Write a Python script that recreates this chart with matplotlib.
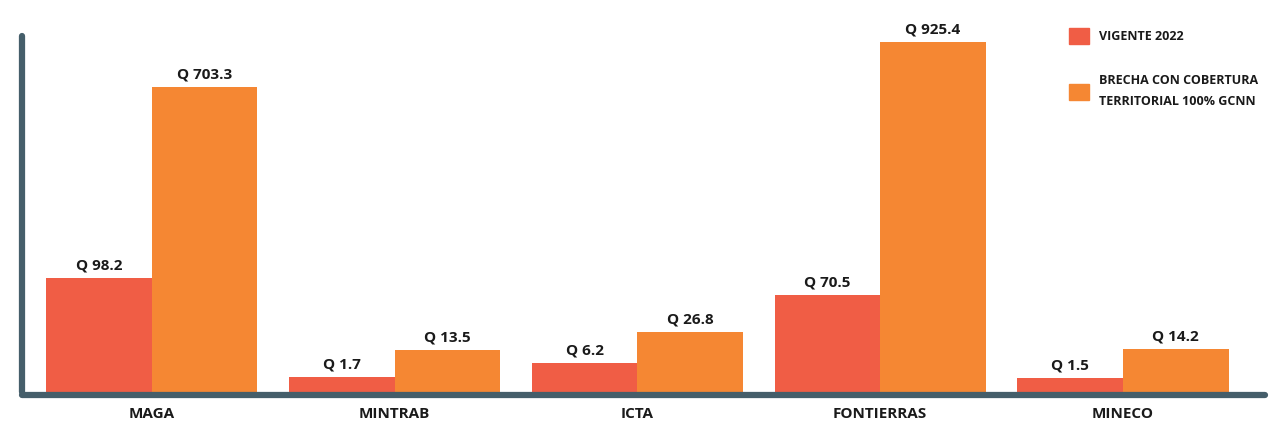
import numpy as np
import matplotlib.pyplot as plt
from matplotlib.patches import Patch

# data
categorias = ['MAGA', 'MINTRAB', 'ICTA', 'FONTIERRAS', 'MINECO']
vigente = [98.2, 1.7, 6.2, 70.5, 1.5]
brecha = [703.3, 13.5, 26.8, 925.4, 14.2]
series_labels = ['VIGENTE 2022', 'BRECHA CON COBERTURA\nTERRITORIAL 100% GCNN']

c_vig = '#F05D45'
c_bre = '#F58733'
c_ax = '#455E6A'
fs = 11

plt.rcParams['font.family'] = ['Open Sans', 'DejaVu Sans']

fig = plt.figure(figsize=(12.71, 4.26), dpi=100)
ax = fig.add_axes([22/1271, (426-392)/426, (1265-22)/1271, (392-36)/426])

x = np.arange(len(categorias))
w = 0.435
b1 = ax.bar(x - w/2, vigente, w, color=c_vig)
b2 = ax.bar(x + w/2, brecha, w, color=c_bre)

# the original chart is not linear; a sqrt scale gets close
ax.set_yscale('function', functions=(np.sqrt, np.square))
ax.set_ylim(0, 958)
ax.set_xlim(-0.535, 4.585)

for bars, vals in ((b1, vigente), (b2, brecha)):
    for r, v in zip(bars, vals):
        ax.annotate('Q %.1f' % v, (r.get_x() + r.get_width()/2, r.get_height()),
                    xytext=(0, 4), textcoords='offset points', ha='center', va='bottom',
                    fontsize=fs, fontweight='bold', color='#1a1a1a')

for s in ['top', 'right']:
    ax.spines[s].set_visible(False)
for s in ['left', 'bottom']:
    ax.spines[s].set_color(c_ax)
    ax.spines[s].set_linewidth(4.5)
    ax.spines[s].set_capstyle('round')
ax.spines['bottom'].set_position(('outward', 2))

ax.set_yticks([])
ax.set_xticks(x)
ax.set_xticklabels(categorias, fontsize=fs, fontweight='bold', color='#1a1a1a')
ax.tick_params(axis='x', length=0, pad=9)

handles = [Patch(color=c_vig), Patch(color=c_bre)]
leg = fig.legend(handles, series_labels, loc='upper left', bbox_to_anchor=(1058/1271, 1 - 17/426),
                 frameon=False, prop={'size': 9, 'weight': 'bold'},
                 handlelength=1.6, handleheight=1.6, handletextpad=0.75, labelspacing=2.4)
for t in leg.get_texts():
    t.set_color('#1a1a1a')
    t.set_linespacing(1.8)

fig.savefig('out.png', dpi=100)
